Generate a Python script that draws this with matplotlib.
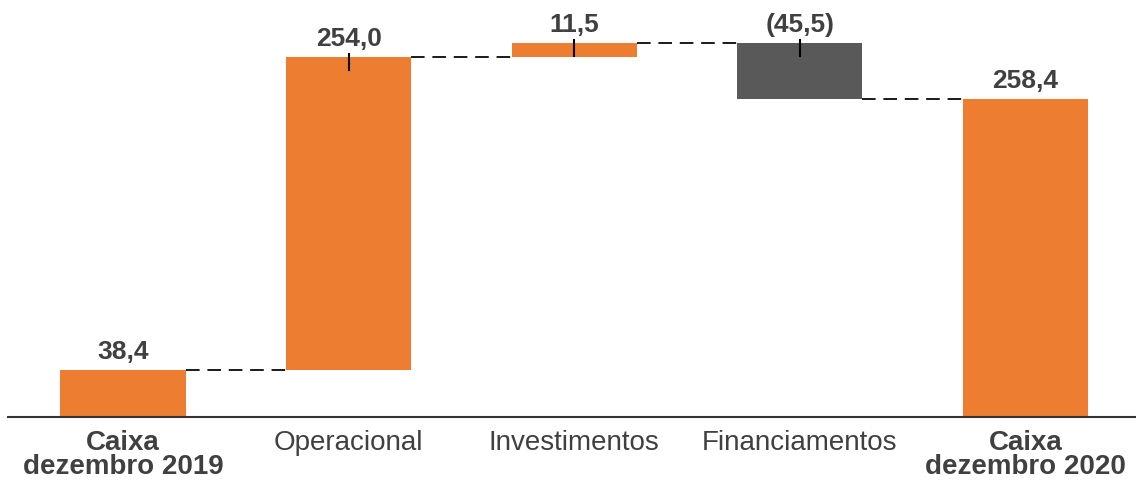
import matplotlib
matplotlib.use("Agg")
import matplotlib.pyplot as plt
import numpy as np

plt.rcParams['font.family'] = ['Liberation Sans', 'DejaVu Sans']

categories = ['Caixa\ndezembro 2019', 'Operacional', 'Investimentos',
              'Financiamentos', 'Caixa\ndezembro 2020']
values = [38.4, 254.0, 11.5, -45.5, 258.4]
labels = ['38,4', '254,0', '11,5', '(45,5)', '258,4']
is_total = [True, False, False, False, True]

orange = '#ED7D31'
grey = '#595959'
txt = '#404040'

# bottoms / tops of waterfall
bottoms = []
tops = []
levels = []
run = 0.0
for v, tot in zip(values, is_total):
    if tot:
        bottoms.append(0.0)
        tops.append(v)
        run = v
    else:
        lo, hi = sorted([run, run + v])
        bottoms.append(lo)
        tops.append(hi)
        run = run + v
    levels.append(run)

fig = plt.figure(figsize=(11.36, 4.84), dpi=100)
ax = fig.add_axes([8 / 1136, 67 / 484, 1 - 8 / 1136, 1 - 67 / 484 - 10 / 484])

x = np.arange(len(values))
w = 0.555
colors = [grey if v < 0 else orange for v in values]
ax.bar(x, np.array(tops) - np.array(bottoms), bottom=bottoms, width=w,
       color=colors, zorder=2)

# dashed connectors
for i in range(len(values) - 1):
    ax.plot([x[i] + w / 2, x[i + 1] - w / 2], [levels[i], levels[i]],
            color='#1a1a1a', lw=1.4, ls=(0, (7, 4)), zorder=1)

# small ticks on the floating bars
for i, tot in enumerate(is_total):
    if not tot:
        ax.plot([x[i], x[i]], [tops[i] + 3, tops[i] - 10], color='black',
                lw=1.5, zorder=3)

for i in range(len(values)):
    ax.text(x[i], tops[i] + 5, labels[i], ha='center', va='bottom',
            fontsize=19, fontweight='bold', color=txt)

ax.set_xlim(-0.51, 4.49)
ax.set_ylim(0, 331)
ax.set_xticks(x)
ax.set_xticklabels(categories)
for t, tot in zip(ax.get_xticklabels(), is_total):
    t.set_fontsize(20)
    t.set_color(txt)
    t.set_linespacing(0.9)
    if tot:
        t.set_fontweight('bold')
ax.tick_params(axis='x', length=0, pad=9)
ax.set_yticks([])
for s in ['top', 'right', 'left']:
    ax.spines[s].set_visible(False)
ax.spines['bottom'].set_color('#333333')
ax.spines['bottom'].set_linewidth(1.5)

fig.savefig('out.png', dpi=100)
